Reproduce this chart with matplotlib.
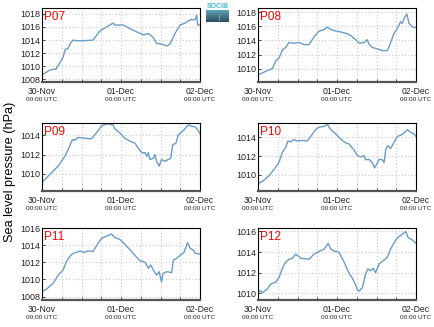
import numpy as np
import matplotlib
matplotlib.use('Agg')
import matplotlib.pyplot as plt
from matplotlib.ticker import MultipleLocator, FixedLocator

plt.rcParams['font.family'] = ['Liberation Sans', 'DejaVu Sans']

# DATA (hours since 30-Nov 00:00 UTC, sea level pressure in hPa)
p07_t = [0, 2.3, 3.9, 4.2, 4.5, 5.4, 6.4, 7.1, 7.9, 8.6, 9.4, 10.5, 12.6, 15.5, 17.6, 19.6, 21.6,
         22.1, 24.7, 27.7, 30.8, 32.3, 33.8, 34.8, 36.3, 37.9, 38.9, 40.4, 41.9, 43.5, 45.0, 46.5,
         47.0, 47.3, 48.0]
p07_v = [1008.7, 1009.4, 1009.6, 1009.5, 1009.8, 1010.5, 1011.4, 1012.6, 1012.7, 1013.5, 1014.0,
         1013.9, 1013.9, 1014.0, 1015.4, 1016.0, 1016.6, 1016.3, 1016.3, 1015.5, 1014.8, 1015.0,
         1014.4, 1013.5, 1013.4, 1013.1, 1013.4, 1015.0, 1016.3, 1016.6, 1017.1, 1017.1, 1017.8,
         1016.3, 1016.3]

p08_t = [0, 1.8, 3.8, 4.4, 5.4, 6.4, 7.4, 8.4, 9.4, 10.9, 12.5, 14.0, 15.5, 17.0, 18.5, 20.0, 21.0,
         21.5, 23.0, 25.1, 27.1, 28.2, 29.7, 30.7, 32.2, 33.2, 33.7, 34.7, 36.3, 37.8, 39.3, 40.3,
         41.3, 42.3, 43.3, 43.8, 44.4, 45.2, 45.9, 46.9, 48.0]
p08_v = [1009.1, 1009.5, 1009.9, 1010.0, 1011.1, 1011.5, 1012.65, 1013.0, 1013.7, 1013.6, 1013.7,
         1013.4, 1013.4, 1014.5, 1015.3, 1015.5, 1015.9, 1015.7, 1015.4, 1015.2, 1014.96, 1014.7,
         1014.1, 1013.6, 1013.7, 1014.1, 1013.5, 1013.0, 1012.8, 1012.55, 1012.55, 1013.7, 1014.96,
         1015.7, 1016.65, 1016.4, 1017.1, 1017.76, 1016.4, 1015.9, 1015.8]

p09_t = [0, 2.3, 4.9, 6.9, 7.9, 9.2, 9.9, 11.0, 13.0, 15.0, 16.5, 18.1, 19.6, 21.6, 22.1, 23.7,
         25.2, 26.7, 28.2, 29.2, 30.3, 31.3, 31.8, 32.3, 32.8, 33.8, 34.3, 34.8, 35.6, 36.3, 37.3,
         38.4, 39.1, 39.7, 40.7, 41.4, 42.9, 44.5, 45.5, 46.5, 47.3, 48.0]
p09_v = [1009.1, 1009.9, 1010.8, 1011.8, 1012.5, 1013.55, 1013.5, 1013.8, 1013.7, 1013.65, 1014.25,
         1015.0, 1015.2, 1015.1, 1014.7, 1014.25, 1013.7, 1013.4, 1013.2, 1012.7, 1012.2, 1012.2,
         1011.8, 1012.2, 1011.5, 1011.6, 1012.0, 1011.3, 1010.8, 1011.5, 1011.3, 1011.5, 1011.6,
         1013.0, 1013.2, 1014.07, 1014.5, 1015.1, 1014.95, 1014.9, 1014.6, 1014.2]

p10_t = [0, 1.3, 3.3, 4.9, 6.4, 7.4, 8.4, 9.1, 9.9, 10.9, 11.9, 13.5, 15.0, 16.0, 17.5, 18.5, 20.0,
         21.1, 22.1, 23.6, 25.1, 26.6, 27.6, 29.2, 30.2, 31.2, 32.2, 32.7, 33.7, 34.7, 35.4, 36.0,
         36.8, 37.8, 38.3, 38.8, 39.5, 40.3, 41.1, 42.3, 43.9, 45.4, 46.2, 47.4, 48.0]
p10_v = [1009.1, 1009.3, 1009.9, 1010.6, 1011.35, 1012.4, 1012.9, 1013.6, 1013.5, 1013.75, 1013.6,
         1013.65, 1013.6, 1014.07, 1014.8, 1015.06, 1015.13, 1015.35, 1014.8, 1014.35, 1013.8,
         1013.4, 1013.3, 1012.64, 1012.05, 1011.9, 1012.05, 1011.6, 1011.65, 1011.3, 1010.75,
         1011.1, 1011.65, 1011.6, 1011.3, 1012.7, 1013.1, 1012.8, 1013.3, 1014.07, 1014.3, 1014.8,
         1014.55, 1014.35, 1014.07]

p11_t = [0, 1.3, 3.4, 4.9, 6.4, 7.4, 8.4, 9.4, 11.5, 13.0, 14.0, 15.5, 17.0, 18.1, 19.6, 21.1,
         22.1, 23.7, 25.7, 27.7, 29.7, 31.3, 32.3, 33.0, 33.8, 34.8, 35.6, 36.3, 36.8, 37.9, 39.4,
         39.9, 40.9, 41.9, 42.7, 43.2, 44.2, 45.0, 46.0, 46.5, 48.0]
p11_v = [1008.6, 1008.85, 1009.55, 1010.5, 1011.1, 1012.06, 1012.65, 1013.03, 1013.3, 1013.15,
         1013.35, 1013.25, 1014.2, 1014.8, 1015.05, 1015.3, 1014.9, 1014.66, 1013.9, 1013.03,
         1012.2, 1012.0, 1011.3, 1011.7, 1011.1, 1010.5, 1010.9, 1009.7, 1010.7, 1010.9, 1010.8,
         1012.25, 1012.45, 1012.8, 1013.03, 1013.2, 1014.3, 1013.65, 1013.4, 1013.05, 1012.95]

p12_t = [0, 0.8, 1.3, 2.8, 3.8, 5.4, 6.4, 7.4, 8.4, 9.4, 10.4, 11.4, 12.3, 13.0, 14.5, 15.5, 17.0,
         18.5, 20.1, 21.3, 22.1, 23.1, 24.6, 26.1, 27.6, 28.7, 29.7, 30.2, 30.7, 31.7, 32.7, 33.4,
         34.2, 35.0, 35.7, 36.8, 37.8, 39.3, 40.3, 41.8, 42.8, 43.9, 44.9, 45.6, 46.9, 48.0]
p12_v = [1010.13, 1010.27, 1010.07, 1010.4, 1010.9, 1011.1, 1011.55, 1012.44, 1013.03, 1013.3,
         1013.4, 1013.8, 1013.6, 1013.4, 1013.35, 1013.3, 1013.8, 1014.06, 1014.3, 1014.85, 1014.3,
         1014.1, 1014.0, 1013.07, 1012.0, 1011.45, 1010.8, 1010.33, 1010.23, 1010.56, 1011.88,
         1012.38, 1012.2, 1012.44, 1012.0, 1012.87, 1013.1, 1013.5, 1014.3, 1015.17, 1015.5,
         1015.73, 1016.0, 1015.4, 1015.17, 1014.85]

names = ['P07', 'P08', 'P09', 'P10', 'P11', 'P12']
times = [p07_t, p08_t, p09_t, p10_t, p11_t, p12_t]
values = [p07_v, p08_v, p09_v, p10_v, p11_v, p12_v]
ylims = [(1007.6, 1018.9), (1008.1, 1018.6), (1008.2, 1015.3),
         (1008.3, 1015.5), (1007.6, 1016.0), (1009.37, 1016.33)]
date_ticks = [0, 24, 48]
date_labels = ['30-Nov', '01-Dec', '02-Dec']

LINE_COLOR = '#6a9cc9'

# panel boxes in pixels (left, top, right, bottom) on a 434x327 canvas
W, H = 434, 327
cols = [(42, 200), (258, 416)]
rows = [(8, 82), (123, 191), (228, 300)]

fig = plt.figure(figsize=(W / 100, H / 100), dpi=100)

for i, name in enumerate(names):
    r, c = divmod(i, 2)
    x0, x1 = cols[c]
    y0, y1 = rows[r]
    ax = fig.add_axes([x0 / W, 1 - y1 / H, (x1 - x0) / W, (y1 - y0) / H])
    ax.plot(times[i], values[i], color=LINE_COLOR, lw=1.0)
    ax.set_xlim(0, 48)
    ax.set_ylim(*ylims[i])
    ax.xaxis.set_major_locator(FixedLocator(date_ticks))
    ax.xaxis.set_minor_locator(MultipleLocator(6))
    ax.yaxis.set_major_locator(MultipleLocator(2))
    ax.set_xticklabels(date_labels)
    ax.grid(True, which='both', axis='x', color='#c8c8c8', ls=(0, (1, 2)), lw=0.8)
    ax.grid(True, which='major', axis='y', color='#c8c8c8', ls=(0, (1, 2)), lw=0.8)
    ax.tick_params(axis='both', which='both', direction='in', length=2, width=0.6,
                   colors='#222222')
    ax.tick_params(axis='x', which='major', labelsize=6.2, pad=3.5)
    ax.tick_params(axis='y', which='major', labelsize=6.5, pad=1)
    for s in ax.spines.values():
        s.set_linewidth(0.8)
        s.set_color('black')
    ax.spines['bottom'].set_linewidth(1.6)
    ax.spines['bottom'].set_color('#555555')
    for t in date_ticks:
        ax.annotate('00:00 UTC', xy=(t, 0), xycoords=('data', 'axes fraction'),
                    xytext=(0, -12.5), textcoords='offset points',
                    ha='center', va='center', fontsize=4.6, color='#222222')
    ax.text(0.015, 0.96, name, transform=ax.transAxes, color='red',
            fontsize=8.5, ha='left', va='top')

fig.text(10 / W, 1 - 172 / H, 'Sea level pressure (hPa)', rotation=90,
         ha='center', va='center', fontsize=9.2)

# small SOCIB logo between the top panels
logo = fig.add_axes([206 / W, 1 - 22 / H, 23 / W, 12 / H])
grad = np.linspace(0, 1, 50).reshape(-1, 1)
logo.imshow(grad, aspect='auto', cmap=matplotlib.colors.LinearSegmentedColormap.from_list(
    'lg', ['#5aa6b8', '#2f4a5a']), extent=[0, 1, 0, 1])
logo.plot([0.55, 0.55], [0.15, 0.7], color='white', lw=0.6, ls=(0, (1, 1.5)))
logo.set_axis_off()
fig.text(217.5 / W, 1 - 6 / H, 'SOCIB', color='#46b8cf', fontsize=5, ha='center',
         va='center', fontweight='bold')

fig.savefig('out.png', dpi=100)
